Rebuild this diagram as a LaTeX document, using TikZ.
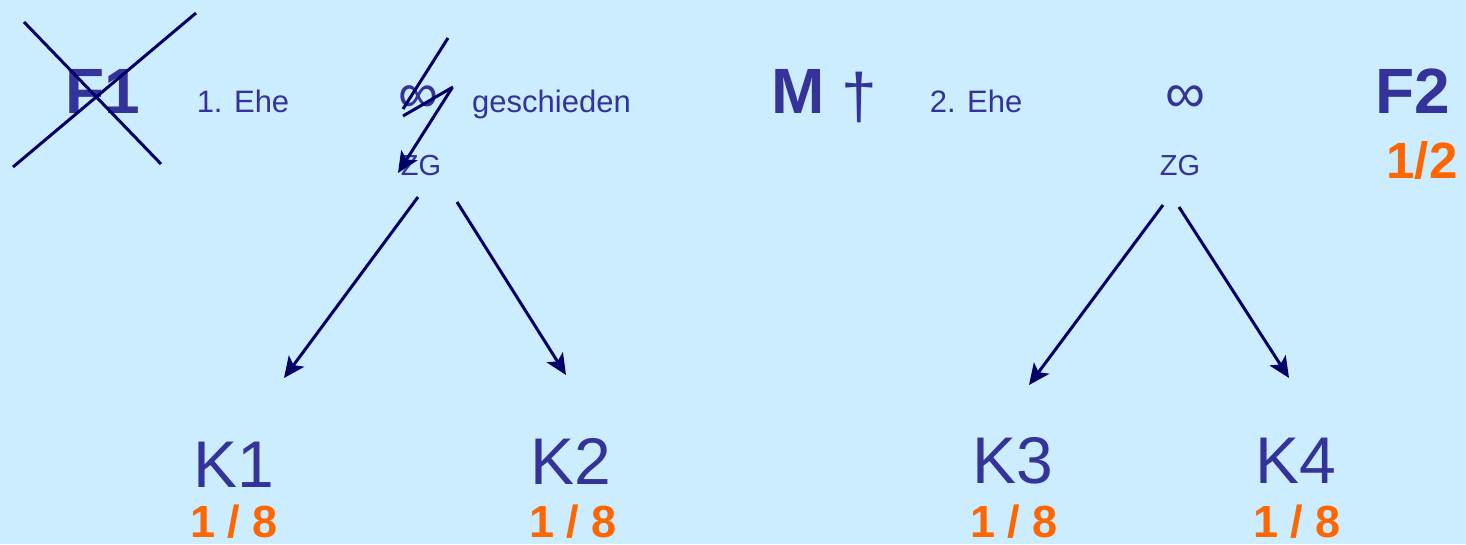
\documentclass[tikz,border=0pt]{standalone}
\usepackage{fontspec}
\setmainfont{Liberation Sans}
\usetikzlibrary{arrows.meta}
\definecolor{bg}{HTML}{CCECFF}
\definecolor{txtblue}{HTML}{333399}
\definecolor{orng}{HTML}{FF6600}
\definecolor{navy}{HTML}{000066}
\tikzset{
  big/.style={text=txtblue, font=\fontsize{64}{70}\selectfont\bfseries, inner sep=0, anchor=base},
  kid/.style={text=txtblue, font=\fontsize{66}{72}\selectfont, inner sep=0, anchor=base},
  share/.style={text=orng, font=\fontsize{45}{50}\selectfont\bfseries, inner sep=0, anchor=base},
  lbl/.style={text=txtblue, font=\fontsize{31}{34}\selectfont, inner sep=0, anchor=base},
  zg/.style={text=txtblue, font=\fontsize{29}{32}\selectfont, inner sep=0, anchor=base},
  inf/.style={text=txtblue, font=\fontsize{56}{60}\selectfont, inner sep=0},
  conn/.style={navy, line width=3pt, -{Stealth[length=21pt, width=19pt, inset=5pt]}},
  strike/.style={navy, line width=3pt}
}
\begin{document}
\begin{tikzpicture}[x=1pt, y=-1pt]
\fill[bg] (0,0) rectangle (1466,544);
\useasboundingbox (0,0) rectangle (1466,544);

% top row
\node[big] (f1) at (103,113) {F1};
\node[lbl] (ehe1) at (243,112) {1. Ehe};
\node[inf] (inf1) at (418,99) {∞};
\node[lbl, anchor=base west] (gesch) at (472,112) {geschieden};
\node[zg] (zg1) at (421,175) {ZG};

\node[big, anchor=base west] (m) at (771,113) {M};
\node[text=txtblue, font=\fontsize{64}{68}\selectfont, inner sep=0] (dag) at (859,97) {†};
\node[lbl] (ehe2) at (976,112) {2. Ehe};
\node[inf] (inf2) at (1185,99) {∞};
\node[zg] (zg2) at (1180,175) {ZG};
\node[big] (f2) at (1413,113) {F2};
\node[share, font=\fontsize{51}{54}\selectfont\bfseries] (s2) at (1422,178) {1/2};

% children
\node[kid] (k1) at (234,487) {K1};
\node[share] (s1) at (234,537) {1 / 8};
\node[kid] (k2) at (571,484) {K2};
\node[share] (s2b) at (573,537) {1 / 8};
\node[kid] (k3) at (1013,483) {K3};
\node[share] (s3) at (1014,537) {1 / 8};
\node[kid] (k4) at (1296,483) {K4};
\node[share] (s4) at (1297,537) {1 / 8};

% strike-outs
\draw[strike] (24,22) -- (161,164);
\draw[strike] (196,13) -- (13,167);
\draw[strike] (448,38) -- (403,109);
\draw[strike] (403,116) -- (453,87);
\coordinate (strA) at (452,88);
\coordinate (strB) at (398,173);
\draw[conn] (strA) -- (strB);

% connectors
\coordinate (a1s) at (418,197);
\coordinate (a1e) at (284,378);
\coordinate (a2s) at (457,202);
\coordinate (a2e) at (566,375);
\coordinate (a3s) at (1163,205);
\coordinate (a3e) at (1029,385);
\coordinate (a4s) at (1179,207);
\coordinate (a4e) at (1289,378);
\draw[conn] (a1s) -- (a1e);
\draw[conn] (a2s) -- (a2e);
\draw[conn] (a3s) -- (a3e);
\draw[conn] (a4s) -- (a4e);
\end{tikzpicture}
\end{document}
